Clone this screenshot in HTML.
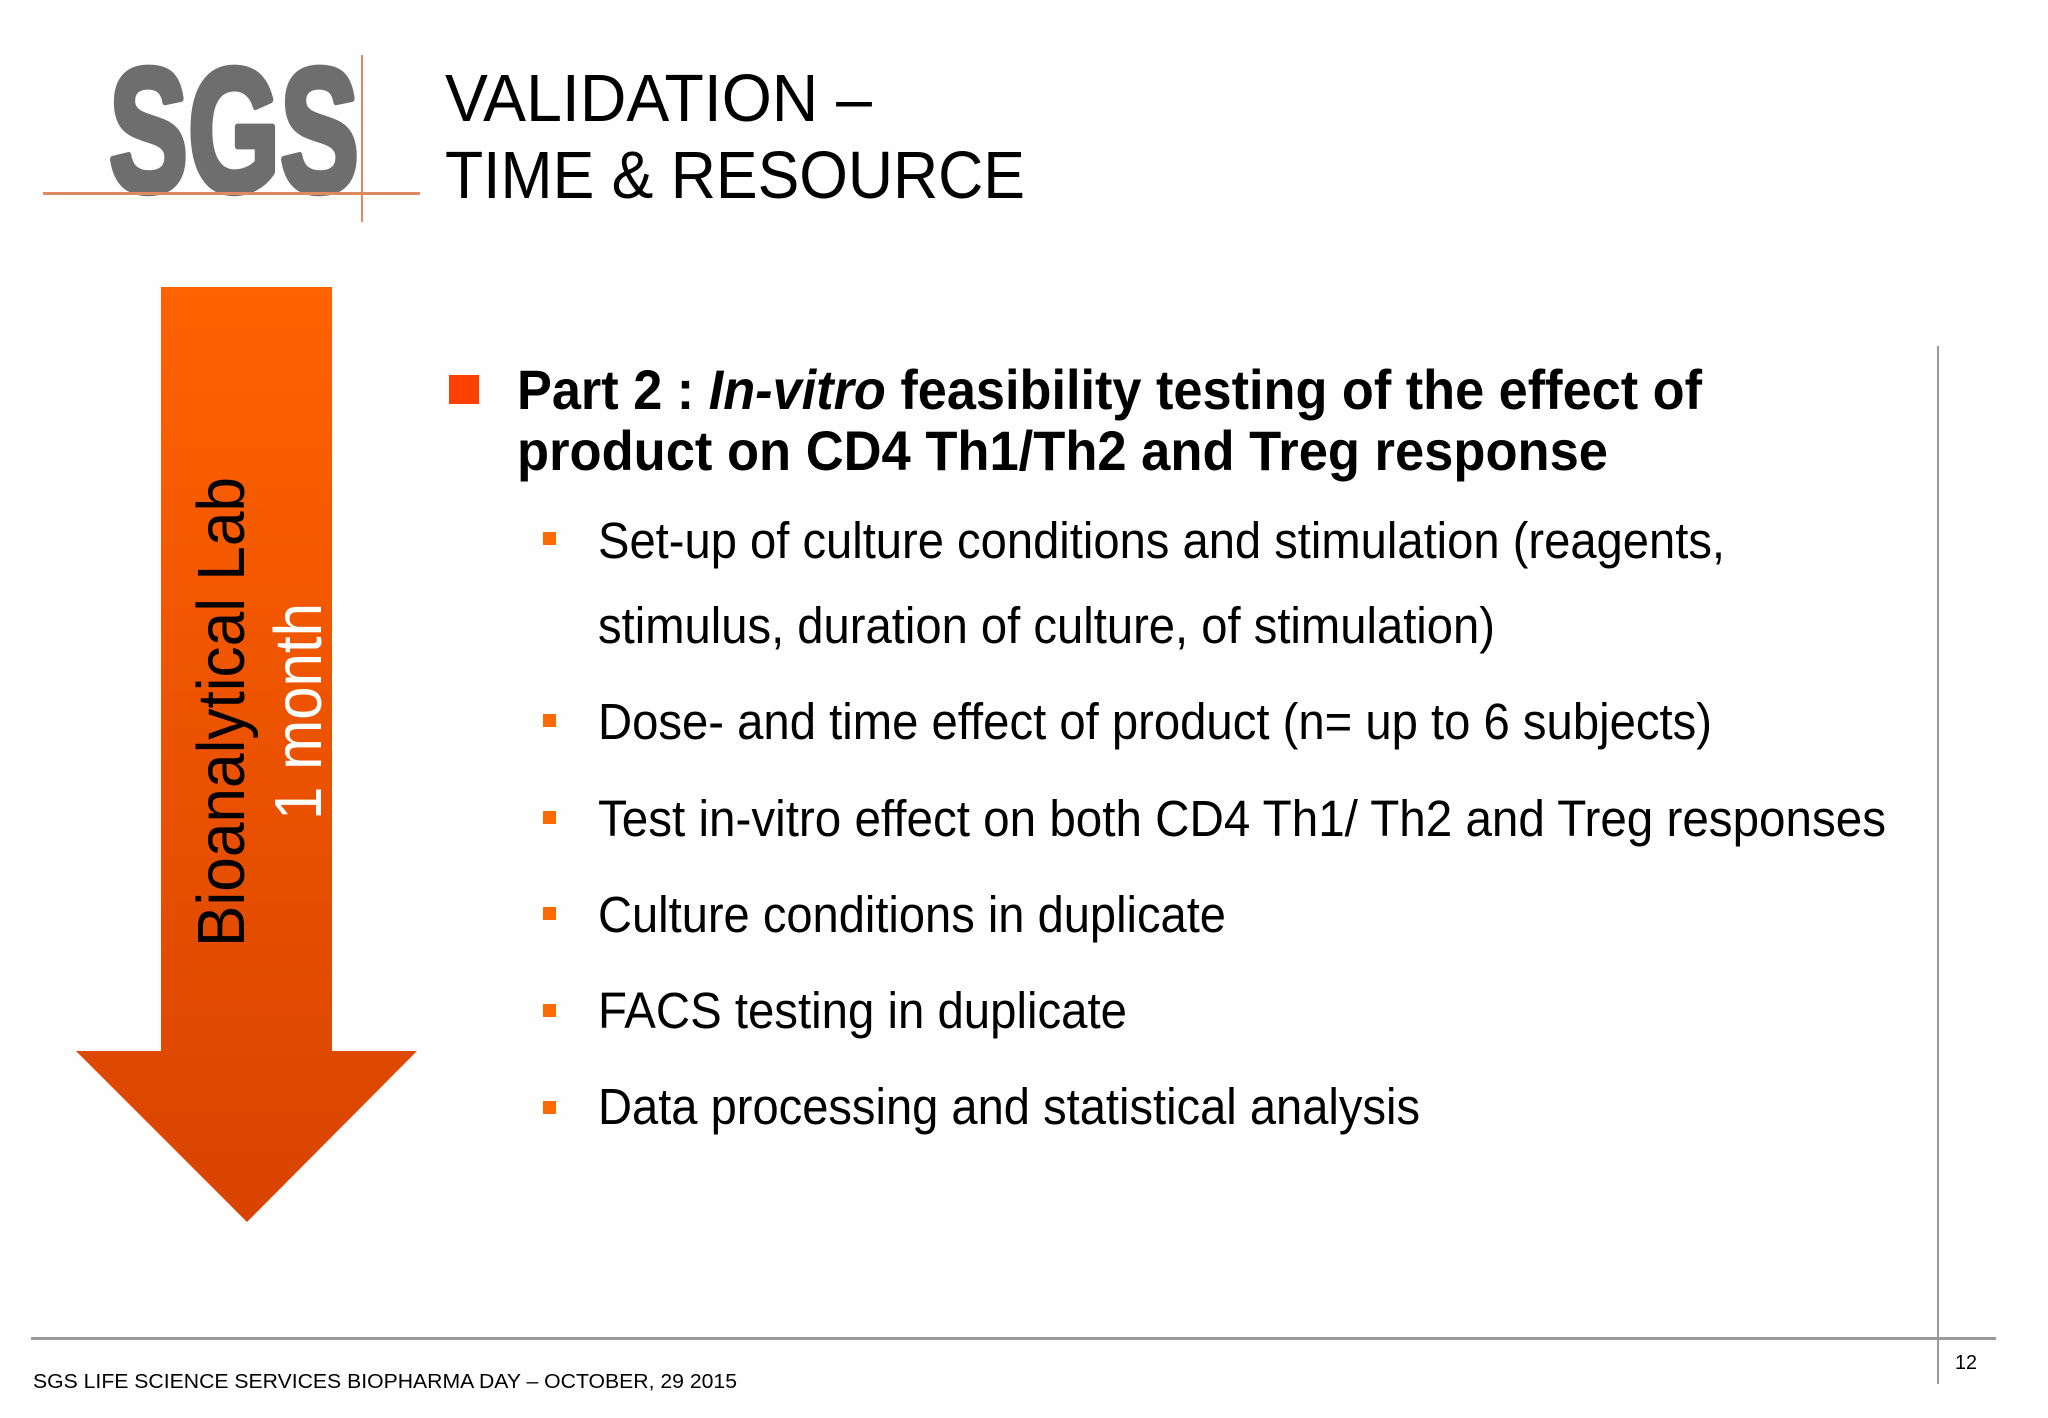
<!DOCTYPE html>
<html><head><meta charset="utf-8"><style>
html,body{margin:0;padding:0;background:#fff;}
svg{display:block;font-family:"Liberation Sans",sans-serif;}
</style></head><body>
<svg width="2048" height="1418" viewBox="0 0 2048 1418">
<defs>
<linearGradient id="ag" x1="0" y1="0" x2="0" y2="1">
<stop offset="0" stop-color="#ff6200"/><stop offset="1" stop-color="#d84300"/>
</linearGradient>
</defs>
<rect width="2048" height="1418" fill="#fefefe"/>
<g>
<text x="109" y="191" font-size="176" font-weight="bold" fill="#6e6e6e" stroke="#6e6e6e" stroke-width="7" stroke-linejoin="round" textLength="250" lengthAdjust="spacingAndGlyphs">SGS</text>
<rect x="43" y="192" width="377" height="3" fill="#e08a60"/>
<rect x="361" y="55" width="2" height="167" fill="#e08a60"/>
</g>
<g font-size="67" fill="#000">
<text x="445" y="121" textLength="427" lengthAdjust="spacingAndGlyphs">VALIDATION –</text>
<text x="445" y="198" textLength="580" lengthAdjust="spacingAndGlyphs">TIME &amp; RESOURCE</text>
</g>
<g>
<polygon points="161,287 332,287 332,1051 417,1051 247,1222 76,1051 161,1051" fill="url(#ag)"/>
<text transform="translate(244,947) rotate(-90)" font-size="67" fill="#000" textLength="470" lengthAdjust="spacingAndGlyphs">Bioanalytical Lab</text>
<text transform="translate(321,820) rotate(-90)" font-size="67" fill="#fff" textLength="217" lengthAdjust="spacingAndGlyphs">1 month</text>
</g>
<g>
<rect x="449" y="375" width="30" height="29" fill="#ff4000"/>
<text x="517" y="409" font-size="56" font-weight="bold" fill="#000" textLength="1185" lengthAdjust="spacingAndGlyphs">Part 2 : <tspan font-style="italic">In-vitro</tspan> feasibility testing of the effect of</text>
<text x="517" y="470" font-size="56" font-weight="bold" fill="#000" textLength="1091" lengthAdjust="spacingAndGlyphs">product on CD4 Th1/Th2 and Treg response</text>
</g>
<g font-size="51" fill="#000">
<rect x="543" y="532" width="13" height="13" fill="#ff6a00"/>
<text x="598" y="558" textLength="1127" lengthAdjust="spacingAndGlyphs">Set-up of culture conditions and stimulation (reagents,</text>
<text x="598" y="643" textLength="897" lengthAdjust="spacingAndGlyphs">stimulus, duration of culture, of stimulation)</text>
<rect x="543" y="714" width="13" height="13" fill="#ff6a00"/>
<text x="598" y="739" textLength="1114" lengthAdjust="spacingAndGlyphs">Dose- and time effect of product (n= up to 6 subjects)</text>
<rect x="543" y="811" width="13" height="13" fill="#ff6a00"/>
<text x="598" y="836" textLength="1288" lengthAdjust="spacingAndGlyphs">Test in-vitro effect on both CD4 Th1/ Th2 and Treg responses</text>
<rect x="543" y="907" width="13" height="13" fill="#ff6a00"/>
<text x="598" y="932" textLength="628" lengthAdjust="spacingAndGlyphs">Culture conditions in duplicate</text>
<rect x="543" y="1004" width="13" height="13" fill="#ff6a00"/>
<text x="598" y="1028" textLength="529" lengthAdjust="spacingAndGlyphs">FACS testing in duplicate</text>
<rect x="543" y="1101" width="13" height="13" fill="#ff6a00"/>
<text x="598" y="1124" textLength="822" lengthAdjust="spacingAndGlyphs">Data processing and statistical analysis</text>
</g>
<rect x="1937" y="346" width="2" height="1038" fill="#999"/>
<rect x="31" y="1337" width="1965" height="3" fill="#9a9a9a"/>
<text x="33" y="1388" font-size="20" fill="#000" textLength="704" lengthAdjust="spacingAndGlyphs">SGS LIFE SCIENCE SERVICES BIOPHARMA DAY – OCTOBER, 29 2015</text>
<text x="1955" y="1369" font-size="20" fill="#000" textLength="22" lengthAdjust="spacingAndGlyphs">12</text>
</svg>
</body></html>
